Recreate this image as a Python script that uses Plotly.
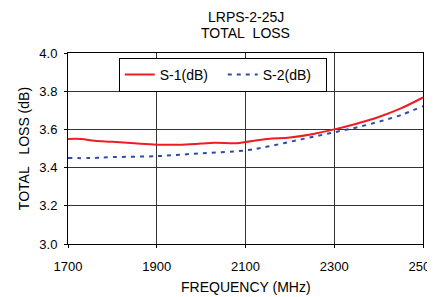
import plotly.graph_objects as go

freq_s1 = [1700, 1730, 1760, 1800, 1850, 1900, 1950, 2000, 2030, 2080, 2100, 2150, 2200, 2250, 2300, 2350, 2400, 2450, 2500]
loss_s1 = [3.55, 3.55, 3.54, 3.535, 3.527, 3.52, 3.52, 3.526, 3.53, 3.528, 3.534, 3.55, 3.558, 3.575, 3.60, 3.63, 3.665, 3.71, 3.767]
freq_s2 = [1700, 1750, 1800, 1900, 2000, 2100, 2150, 2200, 2250, 2300, 2350, 2400, 2450, 2500]
loss_s2 = [3.45, 3.45, 3.455, 3.46, 3.475, 3.49, 3.51, 3.535, 3.56, 3.585, 3.61, 3.64, 3.675, 3.722]
x_ticks = [1700, 1900, 2100, 2300, 2500]
y_ticks = [3.0, 3.2, 3.4, 3.6, 3.8, 4.0]

FONT = "Liberation Sans, Arial, sans-serif"

fig = go.Figure()
fig.add_trace(go.Scatter(x=freq_s1, y=loss_s1, mode="lines", name="S-1(dB)",
                         line=dict(color="#ee1c25", width=2, shape="spline")))
fig.add_trace(go.Scatter(x=freq_s2, y=loss_s2, mode="lines", name="S-2(dB)",
                         line=dict(color="#2e4da0", width=2, dash="4px,5px", shape="spline")))

fig.update_layout(
    width=435, height=297,
    margin=dict(l=60, r=20, t=45, b=61, autoexpand=False),
    paper_bgcolor="white", plot_bgcolor="white",
    font=dict(family=FONT, size=13, color="black"),
    showlegend=True,
    legend=dict(orientation="h", x=0.143, y=0.975, xanchor="left", yanchor="top",
                bordercolor="black", borderwidth=1, bgcolor="white",
                font=dict(size=14), tracegroupgap=0, entrywidth=58),
    xaxis=dict(range=[1700, 2500], tickvals=x_ticks, ticktext=[str(v) for v in x_ticks],
               showgrid=True, gridcolor="#333333", gridwidth=1,
               showline=True, linecolor="black", mirror=True, linewidth=1,
               ticks="outside", ticklen=3, tickcolor="black",
               tickfont=dict(size=13), zeroline=False, automargin=False,
               ticklabeloverflow="allow", ticklabelstandoff=7),
    yaxis=dict(range=[3.0, 4.0], tickvals=y_ticks, ticktext=[f"{v:.1f}" for v in y_ticks],
               showgrid=True, gridcolor="#333333", gridwidth=1,
               showline=True, linecolor="black", mirror=True, linewidth=1,
               ticks="outside", ticklen=3, tickcolor="black",
               tickfont=dict(size=13), zeroline=False, automargin=False,
               ticklabelstandoff=4),
    annotations=[
        dict(text="LRPS-2-25J", xref="paper", yref="paper", x=0.5, y=1.19,
             xanchor="center", yanchor="middle", showarrow=False, font=dict(size=14)),
        dict(text="TOTAL&nbsp;&nbsp;LOSS", xref="paper", yref="paper", x=0.5, y=1.105,
             xanchor="center", yanchor="middle", showarrow=False, font=dict(size=14)),
        dict(text="FREQUENCY (MHz)", xref="paper", yref="paper", x=0.5, y=-0.225,
             xanchor="center", yanchor="middle", showarrow=False, font=dict(size=14)),
        dict(text="TOTAL&nbsp;&nbsp;&nbsp;LOSS (dB)", xref="paper", yref="paper", x=-0.125, y=0.5,
             xanchor="center", yanchor="middle", showarrow=False, textangle=-90,
             font=dict(size=14)),
    ],
)

fig.write_html("out.html")
